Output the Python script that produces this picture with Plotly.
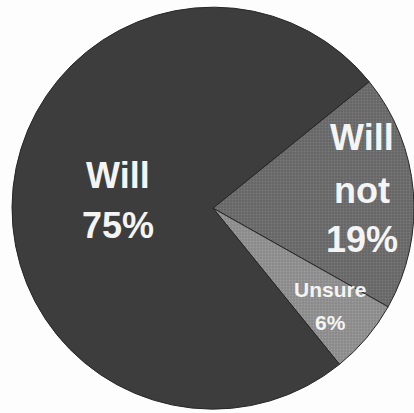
import plotly.graph_objects as go

# Survey responses
labels = ["Will not", "Unsure", "Will"]
values = [19, 6, 75]
colors = ["#656565", "#898989", "#3d3d3d"]
grain = ["#7a7a7a", "#9e9e9e", "#3d3d3d"]

# Label layout: first word line(s) + percentage, centre x and line y (pixels from top)
W, H = 414, 413
label_lines = {
    "Will not": (["Will", "not"], 362, [137, 190, 240], 36),
    "Unsure": (["Unsure"], 330, [289, 322], 21),
    "Will": (["Will"], 118, [175, 225], 36),
}

fig = go.Figure(
    go.Pie(
        labels=labels,
        values=values,
        textinfo="none",
        sort=False,
        direction="clockwise",
        rotation=51,
        marker=dict(
            colors=colors,
            line=dict(color="#262626", width=1),
            pattern=dict(
                shape=[".", ".", ""],
                bgcolor=colors,
                fgcolor=grain,
                size=3,
                solidity=0.35,
            ),
        ),
        showlegend=False,
        hoverinfo="label+percent",
        domain=dict(x=[0.029, 1.0], y=[0.007, 0.985]),
    )
)

total = sum(values)
for name, val in zip(labels, values):
    words, cx, ys, size = label_lines[name]
    lines = words + [f"{round(100 * val / total)}%"]
    for line, y in zip(lines, ys):
        fig.add_annotation(
            text=line,
            x=cx / W,
            y=1 - y / H,
            xref="paper",
            yref="paper",
            xanchor="center",
            yanchor="middle",
            showarrow=False,
            font=dict(family="Liberation Sans", size=size, color="#f4f4f4", weight="bold"),
        )

fig.update_layout(
    width=W,
    height=H,
    margin=dict(l=0, r=0, t=0, b=0),
    paper_bgcolor="#fdfdfd",
    plot_bgcolor="#fdfdfd",
)

fig.write_html("out.html")
